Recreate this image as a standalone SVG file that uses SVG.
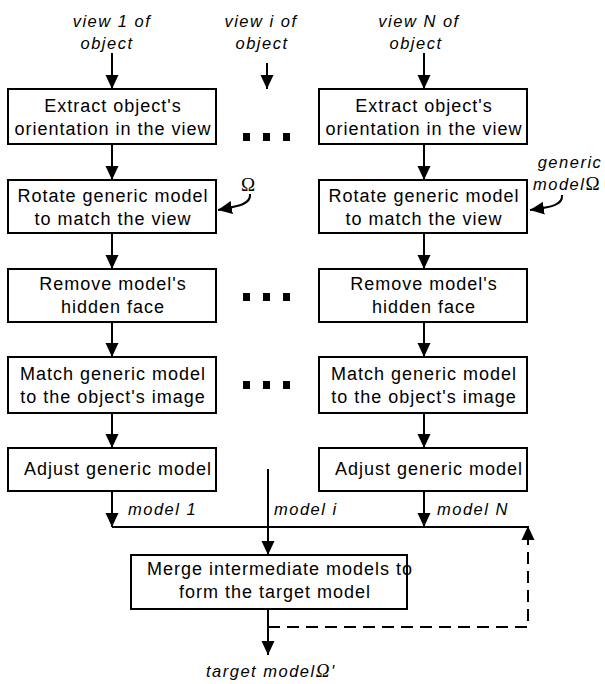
<svg xmlns="http://www.w3.org/2000/svg" width="605" height="684" viewBox="0 0 605 684">
<style>
.box{fill:#fff;stroke:#000;stroke-width:2}
.t{font-family:"Liberation Sans",Arial,sans-serif;font-size:18px;letter-spacing:1px;fill:#000;text-anchor:middle}
.i{font-family:"Liberation Sans",Arial,sans-serif;font-size:16.5px;font-style:italic;letter-spacing:1.5px;fill:#000}
.c{text-anchor:middle}
.ln{fill:none;stroke:#000;stroke-width:2}
.dash{fill:none;stroke:#000;stroke-width:2;stroke-dasharray:12 7}
.dot{fill:#000}
</style>
<defs>
<marker id="ah" viewBox="0 0 14 14" refX="14" refY="7" markerWidth="14" markerHeight="14" markerUnits="userSpaceOnUse" orient="auto">
<path d="M0,0.5 L14,7 L0,13.5 z" fill="#000"/>
</marker>
</defs>

<g id="labels">
<text class="i c" x="112" y="27">view 1 of</text>
<text class="i c" x="107" y="49">object</text>
<text class="i c" x="261" y="27">view i of</text>
<text class="i c" x="262" y="49">object</text>
<text class="i c" x="419" y="27">view N of</text>
<text class="i c" x="416" y="49">object</text>
<text x="248" y="191" font-family="Liberation Serif,serif" font-size="19" text-anchor="middle">Ω</text>
<text class="i c" x="570" y="168">generic</text>
<text class="i" x="533" y="190">model<tspan font-family="Liberation Serif,serif" font-style="normal" font-size="19">Ω</tspan></text>
<text class="i" x="128" y="515">model 1</text>
<text class="i" x="274" y="515">model i</text>
<text class="i" x="437" y="515">model N</text>
<text class="i" x="206" y="677">target model<tspan font-family="Liberation Serif,serif" font-size="19">Ω</tspan>'</text>
</g>

<g id="connectors">
<line class="ln" x1="112" y1="53" x2="112" y2="89" marker-end="url(#ah)"/>
<line class="ln" x1="267" y1="63" x2="267" y2="89" marker-end="url(#ah)"/>
<line class="ln" x1="424" y1="53" x2="424" y2="89" marker-end="url(#ah)"/>
<line class="ln" x1="112" y1="144" x2="112" y2="180" marker-end="url(#ah)"/>
<line class="ln" x1="424" y1="144" x2="424" y2="180" marker-end="url(#ah)"/>
<line class="ln" x1="112" y1="233" x2="112" y2="269" marker-end="url(#ah)"/>
<line class="ln" x1="424" y1="233" x2="424" y2="269" marker-end="url(#ah)"/>
<line class="ln" x1="112" y1="322" x2="112" y2="357" marker-end="url(#ah)"/>
<line class="ln" x1="424" y1="322" x2="424" y2="357" marker-end="url(#ah)"/>
<line class="ln" x1="112" y1="413" x2="112" y2="448" marker-end="url(#ah)"/>
<line class="ln" x1="424" y1="413" x2="424" y2="448" marker-end="url(#ah)"/>
<line class="ln" x1="112" y1="491" x2="112" y2="527" marker-end="url(#ah)"/>
<line class="ln" x1="424" y1="491" x2="424" y2="527" marker-end="url(#ah)"/>
<line class="ln" x1="112" y1="527" x2="528" y2="527"/>
<line class="ln" x1="268" y1="469" x2="268" y2="555" marker-end="url(#ah)"/>
<line class="ln" x1="268" y1="609" x2="268" y2="655" marker-end="url(#ah)"/>
<path class="dash" d="M268,627 H528 V540"/>
<line class="ln" x1="528" y1="545" x2="528" y2="526" marker-end="url(#ah)"/>
<path class="ln" d="M250,194 C251,204 240,206 218,210" marker-end="url(#ah)"/>
<path class="ln" d="M562,195 C563,205 552,207 530,210" marker-end="url(#ah)"/>
<rect class="dot" x="243" y="133" width="7" height="8"/>
<rect class="dot" x="263" y="133" width="7" height="8"/>
<rect class="dot" x="283" y="133" width="7" height="8"/>
<rect class="dot" x="243" y="293" width="7" height="8"/>
<rect class="dot" x="263" y="293" width="7" height="8"/>
<rect class="dot" x="283" y="293" width="7" height="8"/>
<rect class="dot" x="243" y="381" width="7" height="8"/>
<rect class="dot" x="263" y="381" width="7" height="8"/>
<rect class="dot" x="283" y="381" width="7" height="8"/>
</g>

<g id="extract1"><rect class="box" x="8" y="89" width="208" height="55"/>
<text class="t" x="113" y="112">Extract object's</text><text class="t" x="113" y="135">orientation in the view</text></g>
<g id="extractN"><rect class="box" x="319" y="89" width="208" height="55"/>
<text class="t" x="424" y="112">Extract object's</text><text class="t" x="424" y="135">orientation in the view</text></g>
<g id="rotate1"><rect class="box" x="8" y="180" width="208" height="53"/>
<text class="t" x="113" y="202">Rotate generic model</text><text class="t" x="113" y="225">to match the view</text></g>
<g id="rotateN"><rect class="box" x="319" y="180" width="208" height="53"/>
<text class="t" x="424" y="202">Rotate generic model</text><text class="t" x="424" y="225">to match the view</text></g>
<g id="remove1"><rect class="box" x="8" y="269" width="208" height="53"/>
<text class="t" x="113" y="290">Remove model's</text><text class="t" x="113" y="313">hidden face</text></g>
<g id="removeN"><rect class="box" x="319" y="269" width="208" height="53"/>
<text class="t" x="424" y="290">Remove model's</text><text class="t" x="424" y="313">hidden face</text></g>
<g id="match1"><rect class="box" x="8" y="357" width="208" height="56"/>
<text class="t" x="113" y="380">Match generic model</text><text class="t" x="113" y="403">to the object's image</text></g>
<g id="matchN"><rect class="box" x="319" y="357" width="208" height="56"/>
<text class="t" x="424" y="380">Match generic model</text><text class="t" x="424" y="403">to the object's image</text></g>
<g id="adjust1"><rect class="box" x="8" y="448" width="208" height="43"/>
<text class="t" x="118" y="475">Adjust generic model</text></g>
<g id="adjustN"><rect class="box" x="319" y="448" width="208" height="43"/>
<text class="t" x="429" y="475">Adjust generic model</text></g>
<g id="merge"><rect class="box" x="131" y="555" width="276" height="54"/>
<text class="t" x="147" y="575" style="text-anchor:start">Merge intermediate models to</text>
<text class="t" x="275" y="598">form the target model</text></g>
</svg>
